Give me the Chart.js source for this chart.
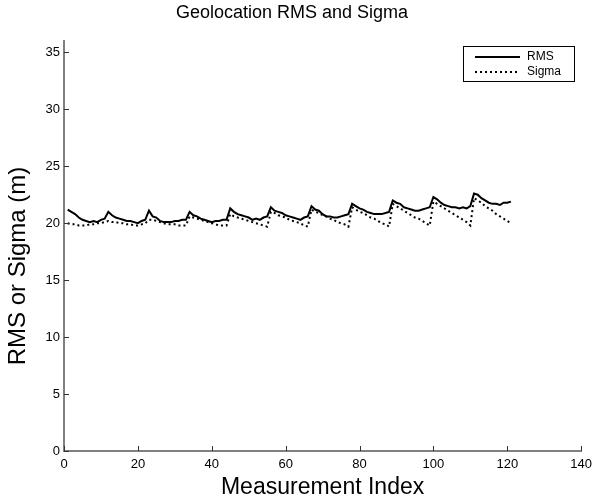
<!DOCTYPE html>
<html>
<head>
<meta charset="utf-8">
<script src="https://cdn.jsdelivr.net/npm/chart.js@4"></script>
<style>
    html, body { margin: 0; padding: 0; background: #fff; }
    #wrap { width: 598px; height: 499px; }
</style>
</head>
<body>
<div id="wrap"><canvas id="geoChart" width="598" height="499"></canvas></div>
<script>
const rmsValues = [
    21.2, 21.0, 20.8, 20.5, 20.3, 20.2, 20.1, 20.2, 20.1, 20.3, 20.4,
    21.0, 20.7, 20.5, 20.4, 20.3, 20.2, 20.2, 20.1, 20.0, 20.2, 20.3,
    21.1, 20.6, 20.5, 20.2, 20.1, 20.1, 20.1, 20.2, 20.2, 20.3, 20.3,
    21.0, 20.7, 20.6, 20.4, 20.3, 20.2, 20.1, 20.2, 20.2, 20.3, 20.3,
    21.3, 21.0, 20.8, 20.7, 20.6, 20.5, 20.3, 20.4, 20.3, 20.5, 20.6,
    21.4, 21.1, 21.0, 20.9, 20.7, 20.6, 20.5, 20.4, 20.3, 20.5, 20.6,
    21.5, 21.2, 21.1, 20.8, 20.6, 20.6, 20.5, 20.5, 20.6, 20.7, 20.8,
    21.7, 21.5, 21.3, 21.2, 21.0, 20.9, 20.8, 20.8, 20.8, 20.9, 21.0,
    22.0, 21.8, 21.7, 21.4, 21.3, 21.2, 21.1, 21.1, 21.2, 21.3, 21.4,
    22.3, 22.1, 21.8, 21.6, 21.5, 21.4, 21.4, 21.3, 21.4, 21.3, 21.5,
    22.6, 22.5, 22.2, 22.0, 21.8, 21.7, 21.7, 21.6, 21.8, 21.8, 21.9
];
const sigmaValues = [
    20.0, 19.9, 19.9, 19.8, 19.8, 19.8, 19.9, 19.9, 20.0, 20.0, 20.1,
    20.2, 20.1, 20.1, 20.0, 20.0, 19.9, 19.9, 19.8, 19.8, 19.9, 20.0,
    20.3, 20.3, 20.2, 20.1, 20.0, 19.9, 19.9, 19.9, 19.8, 19.8, 19.8,
    20.6, 20.5, 20.4, 20.3, 20.2, 20.1, 20.0, 19.9, 19.8, 19.8, 19.8,
    20.8, 20.6, 20.5, 20.4, 20.3, 20.2, 20.1, 20.0, 19.9, 19.8, 19.7,
    21.0, 20.9, 20.7, 20.6, 20.5, 20.3, 20.2, 20.1, 20.0, 19.8, 19.7,
    21.2, 21.0, 20.9, 20.7, 20.6, 20.4, 20.3, 20.1, 20.0, 19.9, 19.7,
    21.4, 21.2, 21.0, 20.9, 20.7, 20.5, 20.4, 20.2, 20.0, 19.9, 19.7,
    21.7, 21.5, 21.3, 21.1, 20.9, 20.7, 20.5, 20.4, 20.2, 20.0, 19.8,
    21.9, 21.7, 21.5, 21.3, 21.1, 20.9, 20.7, 20.5, 20.3, 20.1, 19.8,
    22.2, 22.0, 21.8, 21.5, 21.3, 21.1, 20.8, 20.6, 20.4, 20.2, 20.0
];
const seriesNames = ['RMS', 'Sigma'];
const xTickValues = [0, 20, 40, 60, 80, 100, 120, 140];
const yTickValues = [0, 5, 10, 15, 20, 25, 30, 35];
const yAxisLabel = 'RMS or Sigma (m)';

const FONT = '"Liberation Sans", Arial, Helvetica, sans-serif';

function toPoints(values) {
    return values.map((v, i) => ({ x: i + 1, y: v }));
}

// matlab style ticks pointing into the plot
const innerTicks = {
    id: 'innerTicks',
    afterDatasetsDraw(chart) {
        const { ctx, chartArea, scales } = chart;
        ctx.save();
        ctx.strokeStyle = '#333';
        ctx.lineWidth = 1;
        ctx.beginPath();
        xTickValues.forEach(v => {
            const px = Math.round(scales.x.getPixelForValue(v)) + 0.5;
            ctx.moveTo(px, chartArea.bottom);
            ctx.lineTo(px, chartArea.bottom - 5);
        });
        yTickValues.forEach(v => {
            const py = Math.round(scales.y.getPixelForValue(v)) + 0.5;
            ctx.moveTo(chartArea.left, py);
            ctx.lineTo(chartArea.left + 5, py);
        });
        ctx.stroke();
        ctx.restore();
    }
};

// y label sits a bit below the axis middle in the original
const yLabel = {
    id: 'yLabel',
    afterDraw(chart) {
        const ctx = chart.ctx;
        ctx.save();
        ctx.translate(18, 266);
        ctx.rotate(-Math.PI / 2);
        ctx.fillStyle = '#000';
        ctx.font = '24px ' + FONT;
        ctx.textAlign = 'center';
        ctx.textBaseline = 'middle';
        ctx.fillText(yAxisLabel, 0, 0);
        ctx.restore();
    }
};

// boxed legend with line samples
const boxLegend = {
    id: 'boxLegend',
    afterDraw(chart) {
        const ctx = chart.ctx;
        const x = 463, y = 46, w = 111, h = 35;
        ctx.save();
        ctx.fillStyle = '#fff';
        ctx.fillRect(x, y, w, h);
        ctx.strokeStyle = '#000';
        ctx.lineWidth = 1;
        ctx.strokeRect(x + 0.5, y + 0.5, w, h);
        chart.data.datasets.forEach((ds, i) => {
            const ly = y + 11 + i * 15;
            ctx.beginPath();
            ctx.setLineDash(ds.borderDash || []);
            ctx.lineWidth = ds.borderWidth;
            ctx.strokeStyle = ds.borderColor;
            ctx.moveTo(x + 12, ly);
            ctx.lineTo(x + 57, ly);
            ctx.stroke();
            ctx.setLineDash([]);
            ctx.fillStyle = '#000';
            ctx.font = '12px ' + FONT;
            ctx.textBaseline = 'middle';
            ctx.fillText(ds.label, x + 64, ly);
        });
        ctx.restore();
    }
};

const canvas = document.getElementById('geoChart');
new Chart(canvas.getContext('2d'), {
    type: 'line',
    data: {
        datasets: [
            {
                label: seriesNames[0],
                data: toPoints(rmsValues),
                borderColor: '#000',
                borderWidth: 2,
                pointRadius: 0,
                tension: 0
            },
            {
                label: seriesNames[1],
                data: toPoints(sigmaValues),
                borderColor: '#000',
                borderWidth: 2,
                borderDash: [2, 3],
                pointRadius: 0,
                tension: 0
            }
        ]
    },
    options: {
        responsive: false,
        animation: false,
        layout: { padding: { left: 0, right: 14, top: 0, bottom: 0 } },
        plugins: {
            legend: { display: false },
            tooltip: { enabled: false },
            title: {
                display: true,
                text: 'Geolocation RMS and Sigma',
                color: '#000',
                font: { family: FONT, size: 18, weight: 'normal' },
                padding: { top: 2, bottom: 17.4 }
            }
        },
        scales: {
            x: {
                type: 'linear',
                min: 0,
                max: 140,
                afterBuildTicks: s => { s.ticks = xTickValues.map(v => ({ value: v })); },
                afterFit: s => { s.height = 48; },
                ticks: {
                    color: '#000',
                    padding: 6,
                    maxRotation: 0,
                    font: { family: FONT, size: 13 }
                },
                grid: { display: true, drawOnChartArea: false, drawTicks: false },
                border: { display: true, color: '#808080', width: 2 },
                title: {
                    display: true,
                    text: 'Measurement Index',
                    color: '#000',
                    font: { family: FONT, size: 23 },
                    padding: { top: 0, bottom: -2 }
                }
            },
            y: {
                min: 0,
                max: 36,
                afterBuildTicks: s => { s.ticks = yTickValues.map(v => ({ value: v })); },
                afterFit: s => { s.width = 64; },
                ticks: {
                    color: '#000',
                    padding: 4,
                    font: { family: FONT, size: 13 }
                },
                grid: { display: true, drawOnChartArea: false, drawTicks: false },
                border: { display: true, color: '#808080', width: 2 },
                title: { display: false }
            }
        }
    },
    plugins: [innerTicks, yLabel, boxLegend]
});
</script>
</body>
</html>
